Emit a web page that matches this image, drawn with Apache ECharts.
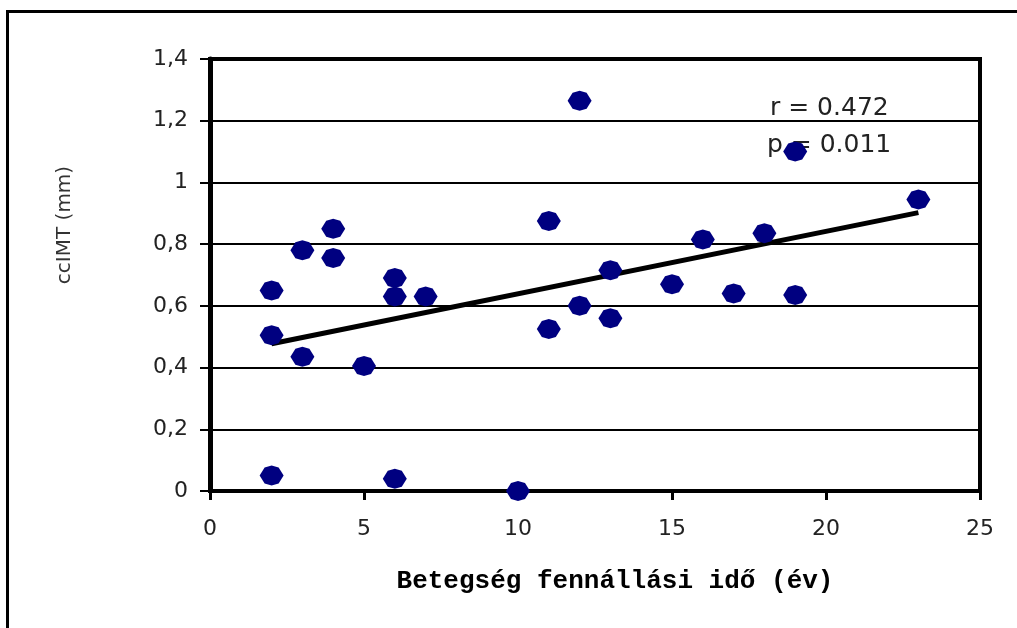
<!DOCTYPE html>
<html>
<head>
<meta charset="utf-8">
<script src="https://cdn.jsdelivr.net/npm/echarts@6/dist/echarts.min.js"></script>
<style>
html,body{margin:0;padding:0;background:#fff;}
#chart{width:1017px;height:628px;}
</style>
</head>
<body>
<div id="chart"></div>
<script>
// Data
var durationYears = [2, 2, 2, 3, 3, 4, 4, 5, 6, 6, 6, 7, 10, 11, 11, 12, 12, 13, 13, 15, 16, 17, 18, 19, 19, 23];
var ccimtMm      = [0.65, 0.505, 0.05, 0.78, 0.435, 0.85, 0.755, 0.405, 0.69, 0.63, 0.04, 0.63, 0.0, 0.875, 0.525, 1.265, 0.60, 0.715, 0.56, 0.67, 0.815, 0.64, 0.835, 1.10, 0.635, 0.945];
var yTickLabels = {0: '0', 0.2: '0,2', 0.4: '0,4', 0.6: '0,6', 0.8: '0,8', 1: '1', 1.2: '1,2', 1.4: '1,4'};
var xTickLabels = [0, 5, 10, 15, 20, 25];
var statsText = ['r = 0.472', 'p = 0.011'];
var xTitle = 'Betegség fennállási idő (év)';
var yTitle = 'ccIMT (mm)';

// Build points
var points = durationYears.map(function (x, i) { return [x, ccimtMm[i]]; });

// Least-squares trend line computed from the data
var n = durationYears.length, sx = 0, sy = 0, sxx = 0, sxy = 0;
for (var i = 0; i < n; i++) {
  sx += durationYears[i]; sy += ccimtMm[i];
  sxx += durationYears[i] * durationYears[i]; sxy += durationYears[i] * ccimtMm[i];
}
var slope = (n * sxy - sx * sy) / (n * sxx - sx * sx);
var intercept = (sy - slope * sx) / n;
var xMin = Math.min.apply(null, durationYears), xMax = Math.max.apply(null, durationYears);
var trend = [[xMin, intercept + slope * xMin], [xMax, intercept + slope * xMax]];

var chart = echarts.init(document.getElementById('chart'), null, {renderer: 'canvas'});
chart.setOption({
  animation: false,
  backgroundColor: '#fff',
  grid: {
    left: 210, right: 37, top: 59, bottom: 137,
    show: true, borderColor: '#000', borderWidth: 4, backgroundColor: 'transparent'
  },
  xAxis: {
    type: 'value', min: 0, max: 25, interval: 5,
    axisLine: {show: true, onZero: false, lineStyle: {color: '#000', width: 3}},
    axisTick: {show: true, inside: false, length: 9, lineStyle: {color: '#000', width: 3}},
    splitLine: {show: false},
    axisLabel: {
      color: '#222', fontFamily: 'DejaVu Sans', fontSize: 22, margin: 27,
      formatter: function (v) { return xTickLabels.indexOf(v) >= 0 ? String(v) : ''; }
    }
  },
  yAxis: {
    type: 'value', min: 0, max: 1.4, interval: 0.2,
    axisLine: {show: true, lineStyle: {color: '#000', width: 5}},
    axisTick: {show: true, inside: false, length: 10, lineStyle: {color: '#000', width: 2}},
    splitLine: {show: true, lineStyle: {color: '#000', width: 2}},
    axisLabel: {
      color: '#222', fontFamily: 'DejaVu Sans', fontSize: 22, margin: 22,
      formatter: function (v) {
        var k = Math.round(v * 10) / 10;
        return yTickLabels[k] !== undefined ? yTickLabels[k] : '';
      }
    }
  },
  series: [
    {
      type: 'line', data: trend, showSymbol: false, symbol: 'none', z: 3,
      lineStyle: {color: '#000', width: 5}, silent: true
    },
    {
      type: 'scatter', data: points, z: 4,
      symbol: 'path://M0,-10 L7,-8 L12,0 L7,8 L0,10 L-7,8 L-12,0 L-7,-8 Z',
      symbolSize: [24, 20],
      itemStyle: {color: '#000080', opacity: 1}
    }
  ],
  graphic: [
    {type: 'line', shape: {x1: 7.5, y1: 11.5, x2: 1017, y2: 11.5}, style: {stroke: '#000', lineWidth: 3}},
    {type: 'line', shape: {x1: 7.5, y1: 10, x2: 7.5, y2: 628}, style: {stroke: '#000', lineWidth: 3}},
    {type: 'text', left: 770, top: 96, style: {text: statsText[0], fill: '#222', font: '25px "DejaVu Sans"'}},
    {type: 'text', left: 767, top: 133, style: {text: statsText[1], fill: '#222', font: '25px "DejaVu Sans"'}},
    {type: 'text', x: 615, y: 581, style: {text: xTitle, fill: '#000', font: 'bold 26px "Liberation Mono"', align: 'center', verticalAlign: 'middle'}},
    {type: 'text', x: 65, y: 225, rotation: Math.PI / 2, style: {text: yTitle, fill: '#333', font: '20px "DejaVu Sans"', align: 'center', verticalAlign: 'middle'}}
  ]
});
</script>
</body>
</html>
